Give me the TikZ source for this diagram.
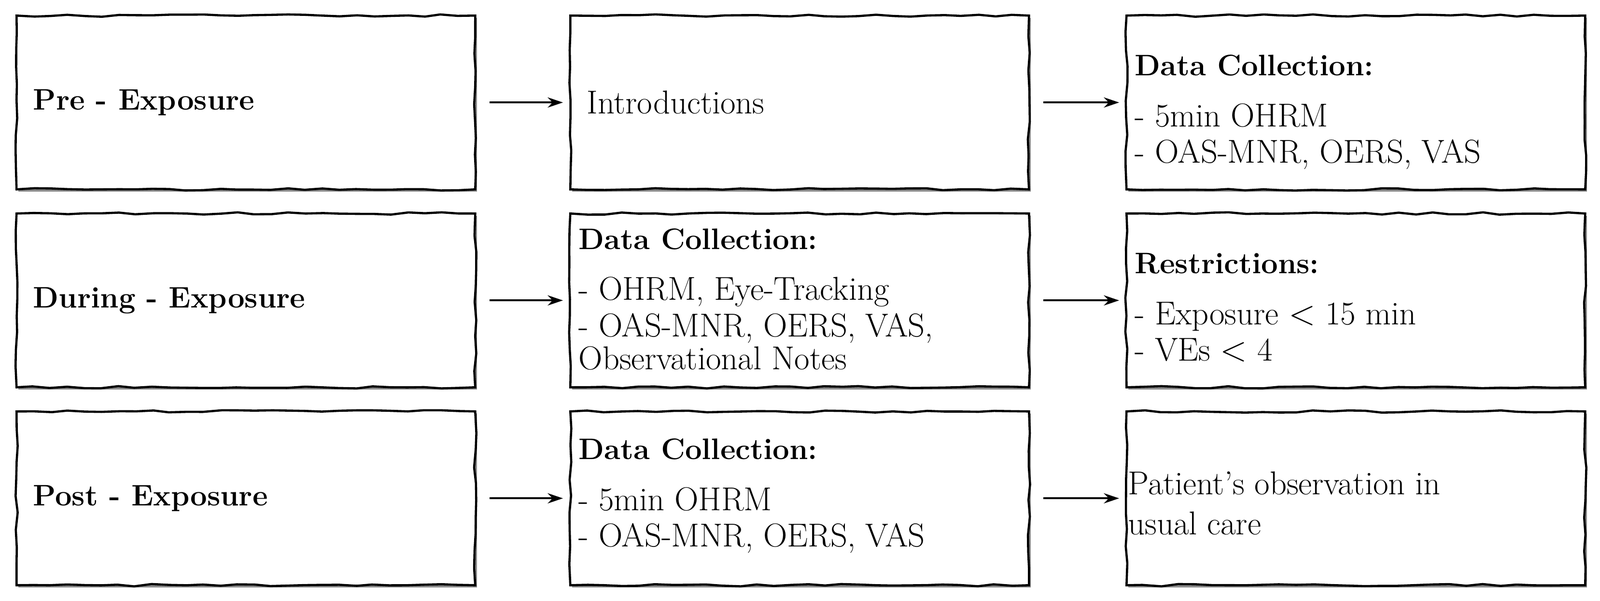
\documentclass[tikz,border=0pt]{standalone}
\usetikzlibrary{decorations.pathmorphing,arrows.meta}
\newcommand{\hd}[1]{{\fontsize{17.5}{21.5}\selectfont\textbf{#1}}}
\begin{document}
\begin{tikzpicture}[x=1mm,y=-1mm,
  box/.style={draw=black,line width=1.3pt,fill=white,
    decorate,decoration={random steps,segment length=10pt,amplitude=0.7pt},
    minimum width=95mm,minimum height=36mm,anchor=north west,inner sep=0pt},
  shad/.style={fill=black!45,minimum width=95mm,minimum height=36mm,anchor=north west,inner sep=0pt},
  txt/.style={anchor=west,align=left,inner sep=0pt,font=\fontsize{19.5}{21.5}\selectfont},
  arr/.style={-{Stealth[length=9pt,width=6pt]},line width=1.2pt}]
\useasboundingbox (0,0) rectangle (331.4,124.4);
\foreach \x/\c in {3.2/a,117.9/b,233.1/c}{
  \foreach \y/\r in {3.0/1,44.0/2,85.0/3}{
    \node[shad] at (\x+0.5,\y+0.6) {};
    \node[box] (\c\r) at (\x,\y) {};
  }}
% column 1
\node[txt] (t1) at ([xshift=3.6mm]a1.west) {\hd{Pre - Exposure}};
\node[txt] (t2) at ([xshift=3.6mm]a2.west) {\hd{During - Exposure}};
\node[txt] (t3) at ([xshift=3.6mm]a3.west) {\hd{Post - Exposure}};
% column 2
\node[txt] (u1) at ([xshift=3.6mm]b1.west) {Introductions};
\node[txt] (u2) at ([xshift=1.9mm,yshift=0.2mm]b2.west) {\hd{Data Collection:}\\[8.5pt]- OHRM, Eye-Tracking\\- OAS-MNR, OERS, VAS,\\[-2pt]Observational Notes};
\node[txt] (u3) at ([xshift=1.9mm,yshift=0.5mm]b3.west) {\hd{Data Collection:}\\[8.5pt]- 5min OHRM\\- OAS-MNR, OERS, VAS};
% column 3
\node[txt] (v1) at ([xshift=1.9mm,yshift=-2mm]c1.west) {\hd{Data Collection:}\\[8.5pt]- 5min OHRM\\- OAS-MNR, OERS, VAS};
\node[txt] (v2) at ([xshift=1.9mm,yshift=-1.5mm]c2.west) {\hd{Restrictions:}\\[8.5pt]- Exposure $<$ 15 min\\- VEs $<$ 4};
\node[txt] (v3) at ([xshift=0.5mm,yshift=-1mm]c3.west) {Patient's observation in\\[2pt]usual care};
% arrows
\foreach \p/\q in {a1/b1,a2/b2,a3/b3,b1/c1,b2/c2,b3/c3}
  \draw[arr] ([xshift=2.7mm]\p.east) -- ([xshift=-1.3mm]\q.west);
\end{tikzpicture}
\end{document}
